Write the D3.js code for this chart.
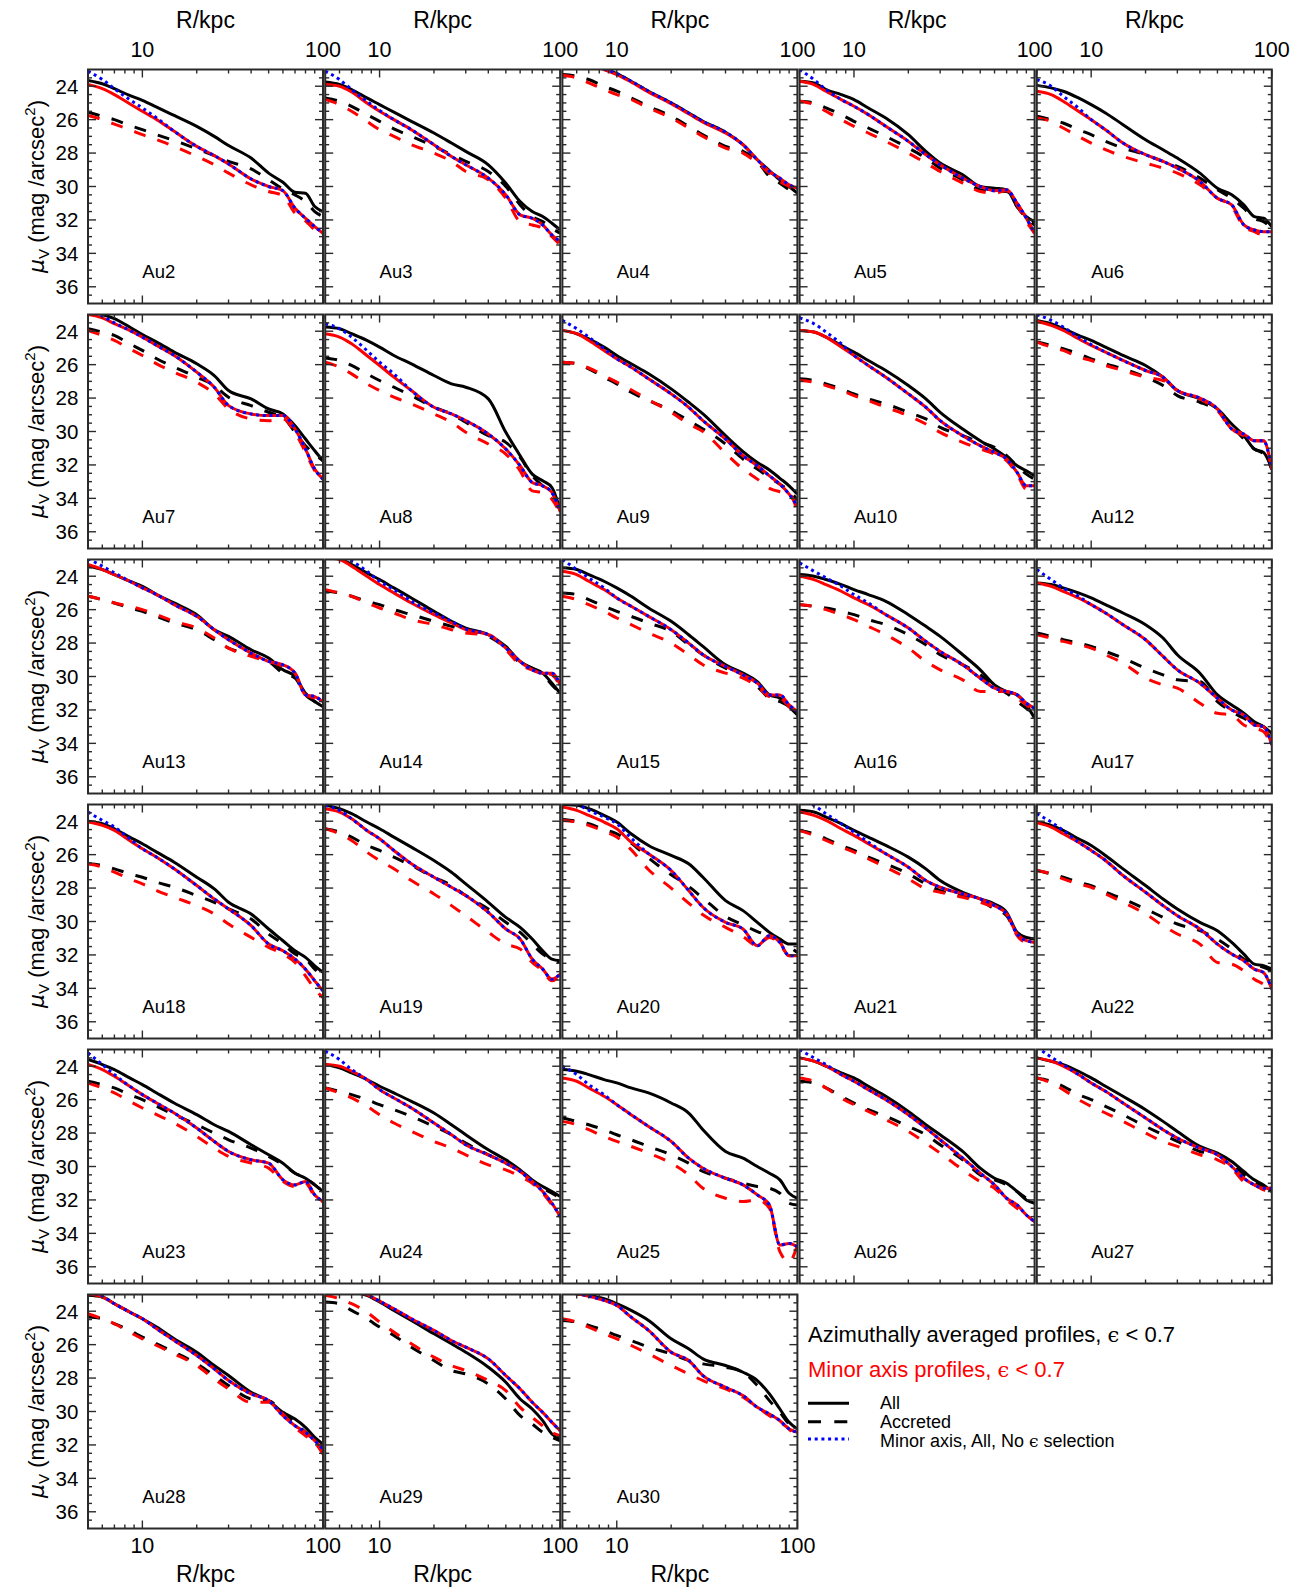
<!DOCTYPE html>
<html><head><meta charset="utf-8">
<script src="https://cdn.jsdelivr.net/npm/d3@7"></script>
<style>body{margin:0;background:#fff}svg{display:block}text{font-family:"Liberation Sans",Arial,sans-serif}</style>
</head><body>
<svg id="c" width="1303" height="1593"></svg>
<script>
// ---------------- DATA ----------------
const radii = [5,6,7,8.5,10,12,15,20,25,30,40,50,60,70,80,90,100]; // R / kpc
const gridLayout = [
  ["Au2","Au3","Au4","Au5","Au6"],
  ["Au7","Au8","Au9","Au10","Au12"],
  ["Au13","Au14","Au15","Au16","Au17"],
  ["Au18","Au19","Au20","Au21","Au22"],
  ["Au23","Au24","Au25","Au26","Au27"],
  ["Au28","Au29","Au30"]
];
const xMajorTicks = [10,100];
const xMinorTicks = [5,6,7,8,9,20,30,40,50,60,70,80,90];
const yMajorTicks = [24,26,28,30,32,34,36];
const yMinorTicks = d3.range(23.5,37,0.5).filter(v=>v%2!==0);

// Azimuthally averaged, All (black solid)
const allAzim = {
Au2:[23.65,23.85,24.15,24.55,24.85,25.25,25.75,26.4,27.0,27.55,28.3,29.2,29.75,30.35,30.4,31.2,31.5],
Au3:[23.75,23.9,24.2,24.7,25.1,25.55,26.1,26.8,27.4,27.9,28.7,29.8,30.9,31.5,31.8,32.2,32.6],
Au4:[21.7,22.2,22.6,22.95,23.25,23.7,24.3,25.0,25.6,26.1,26.75,27.5,28.4,29.05,29.6,30.0,30.4],
Au5:[23.7,23.8,24.2,24.5,24.8,25.3,25.9,26.9,27.9,28.6,29.3,30.0,30.1,30.2,31.2,31.8,32.1],
Au6:[23.95,24.1,24.3,24.7,25.1,25.6,26.3,27.2,27.8,28.3,29.2,30.1,30.5,31.1,31.8,31.9,32.4],
Au7:[22.8,23.0,23.25,23.75,24.2,24.65,25.25,25.95,26.65,27.55,28.05,28.65,28.95,29.65,30.45,31.15,31.75],
Au8:[23.75,23.85,24.15,24.55,24.95,25.45,25.95,26.65,27.15,27.35,28.05,30.05,31.45,32.55,32.95,33.35,34.7],
Au9:[23.95,24.15,24.45,24.95,25.45,25.95,26.55,27.45,28.25,28.95,30.25,31.2,31.85,32.3,32.8,33.25,33.75],
Au10:[23.95,24.05,24.35,24.85,25.25,25.75,26.35,27.25,28.05,28.85,29.85,30.55,31.05,31.55,32.05,32.35,32.65],
Au12:[23.35,23.55,23.85,24.25,24.55,24.95,25.45,26.05,26.75,27.55,28.05,28.65,29.55,30.25,31.05,31.25,32.25],
Au13:[23.4,23.6,23.9,24.3,24.6,25.1,25.6,26.3,27.2,27.6,28.4,28.9,29.6,30.0,31.0,31.5,31.8],
Au14:[22.8,22.95,23.3,23.8,24.2,24.7,25.3,26.1,26.7,27.1,27.5,28.2,29.1,29.5,29.8,30.4,31.0],
Au15:[23.5,23.6,23.9,24.3,24.7,25.2,25.9,26.7,27.5,28.2,29.3,29.8,30.3,31.1,31.3,31.8,32.3],
Au16:[23.9,24.0,24.2,24.5,24.8,25.1,25.5,26.3,27.0,27.6,28.7,29.6,30.5,30.9,31.1,31.7,32.5],
Au17:[24.4,24.5,24.7,25.0,25.3,25.7,26.2,26.9,27.7,28.7,29.8,31.1,31.7,32.2,32.7,33.0,33.4],
Au18:[24.0,24.15,24.45,24.95,25.35,25.85,26.45,27.35,28.05,28.85,29.55,30.45,31.15,31.75,32.15,32.65,33.05],
Au19:[23.05,23.25,23.55,24.05,24.45,24.95,25.55,26.35,27.05,27.75,28.85,29.75,30.35,31.05,31.75,32.25,32.35],
Au20:[23.0,23.05,23.25,23.65,24.05,24.75,25.45,26.05,26.55,27.35,28.75,29.35,30.05,30.65,31.05,31.35,31.35],
Au21:[23.35,23.45,23.75,24.15,24.55,24.95,25.45,26.15,26.85,27.55,28.25,28.65,28.95,29.45,30.65,30.95,31.05],
Au22:[24.05,24.25,24.55,25.05,25.45,26.05,26.85,27.85,28.65,29.25,30.05,30.55,31.25,31.95,32.55,32.65,32.85],
Au23:[23.6,23.9,24.2,24.7,25.1,25.6,26.2,26.9,27.5,27.9,28.7,29.3,29.8,30.4,30.7,31.1,31.5],
Au24:[23.9,24.1,24.4,24.8,25.2,25.6,26.1,26.8,27.5,28.1,29.0,29.6,30.2,30.8,31.2,31.5,31.8],
Au25:[24.2,24.3,24.5,24.8,25.0,25.3,25.6,26.2,26.8,27.8,29.1,29.5,30.0,30.4,30.8,31.6,31.9],
Au26:[23.5,23.7,24.0,24.4,24.7,25.2,25.8,26.7,27.5,28.1,29.1,30.1,30.7,31.0,31.5,32.0,32.2],
Au27:[23.5,23.7,23.9,24.3,24.7,25.2,25.8,26.6,27.3,27.9,28.8,29.2,29.7,30.3,30.8,31.1,31.5],
Au28:[23.05,23.15,23.55,24.05,24.45,24.95,25.65,26.45,27.25,27.85,28.85,29.35,30.05,30.45,30.95,31.55,31.95],
Au29:[22.5,22.7,22.85,23.05,23.45,23.95,24.55,25.35,25.95,26.45,27.35,28.25,29.25,29.85,30.55,31.35,31.65],
Au30:[22.85,22.95,23.05,23.25,23.55,23.95,24.55,25.65,26.25,26.85,27.25,27.65,28.15,28.95,29.85,30.65,31.05]
};
// Azimuthally averaged, Accreted (black dashed)
const accAzim = {
Au2:[25.55,25.8,26.0,26.35,26.6,26.9,27.25,27.75,28.15,28.5,28.95,29.6,30.15,30.5,30.9,31.5,31.8],
Au3:[24.7,24.9,25.2,25.7,26.1,26.55,27.0,27.6,28.1,28.5,29.1,30.0,31.1,31.8,32.1,32.5,32.8],
Au4:[23.3,23.4,23.6,24.0,24.3,24.7,25.2,25.8,26.4,26.9,27.6,27.9,28.5,29.4,29.8,30.2,30.6],
Au5:[24.9,25.0,25.3,25.7,26.1,26.5,27.0,27.7,28.3,28.9,29.6,30.2,30.3,30.3,31.2,31.9,32.3],
Au6:[25.8,26.0,26.2,26.6,26.9,27.3,27.7,28.1,28.5,28.8,29.5,30.2,30.7,31.3,31.9,32.1,32.5],
Au7:[23.85,24.05,24.25,24.75,25.15,25.65,26.15,26.75,27.25,27.95,28.45,28.85,29.15,30.05,30.85,31.35,31.75],
Au8:[25.6,25.75,26.05,26.55,26.95,27.35,27.85,28.55,28.95,29.45,30.25,30.65,31.55,32.65,33.25,33.65,34.8],
Au9:[25.85,25.95,26.25,26.75,27.15,27.65,28.15,28.75,29.35,29.85,30.75,31.65,32.25,32.75,33.15,33.55,34.1],
Au10:[26.85,26.95,27.15,27.45,27.75,28.05,28.35,28.85,29.25,29.75,30.25,30.65,30.95,31.45,32.05,32.55,32.85],
Au12:[24.65,24.85,25.05,25.35,25.65,25.95,26.25,26.75,27.25,27.85,28.25,28.75,29.65,30.45,31.05,31.35,32.25],
Au13:[25.2,25.4,25.6,25.9,26.1,26.4,26.8,27.2,27.8,28.3,28.7,29.1,29.8,30.1,31.1,31.5,31.8],
Au14:[24.9,25.0,25.2,25.5,25.7,26.0,26.3,26.7,27.0,27.2,27.6,28.3,29.2,29.5,29.9,30.5,31.0],
Au15:[25.0,25.1,25.4,25.8,26.1,26.4,26.8,27.3,28.1,28.7,29.5,29.9,30.6,31.3,31.5,31.8,32.4],
Au16:[25.7,25.8,25.9,26.1,26.3,26.6,26.9,27.5,28.1,28.7,29.3,29.9,30.6,31.0,31.5,31.9,32.3],
Au17:[27.4,27.6,27.8,28.0,28.2,28.5,28.9,29.5,29.9,30.2,30.3,31.5,32.1,32.5,32.8,33.0,33.5],
Au18:[26.55,26.65,26.85,27.15,27.35,27.65,27.95,28.45,28.85,29.25,29.85,30.75,31.35,31.95,32.25,32.85,33.35],
Au19:[24.45,24.65,24.95,25.45,25.75,26.15,26.65,27.35,27.85,28.45,29.25,30.05,30.65,31.35,31.95,32.25,32.45],
Au20:[23.9,24.0,24.15,24.5,24.75,25.3,26.2,27.2,27.9,28.6,29.7,30.2,30.6,30.85,31.1,31.5,31.85],
Au21:[24.55,24.75,25.05,25.45,25.75,26.15,26.55,27.15,27.75,28.15,28.45,28.75,29.25,29.65,30.75,31.05,31.15],
Au22:[26.95,27.15,27.35,27.65,27.85,28.25,28.65,29.25,29.75,30.15,30.55,31.05,31.65,32.25,32.55,32.75,32.95],
Au23:[24.9,25.1,25.3,25.7,26.0,26.4,26.9,27.5,28.0,28.4,28.9,29.4,29.9,30.4,30.7,31.1,31.5],
Au24:[25.3,25.5,25.7,26.0,26.3,26.6,27.0,27.6,28.1,28.6,29.3,29.8,30.3,30.9,31.3,31.6,31.9],
Au25:[27.1,27.3,27.5,27.8,28.1,28.4,28.8,29.3,29.8,30.3,30.7,31.0,31.2,31.3,31.6,32.2,32.3],
Au26:[24.9,25.0,25.3,25.8,26.2,26.6,27.0,27.6,28.1,28.7,29.6,30.5,30.8,31.1,31.5,31.9,32.2],
Au27:[24.7,24.9,25.2,25.7,26.0,26.4,26.9,27.6,28.1,28.5,29.1,29.3,29.8,30.5,30.9,31.2,31.4],
Au28:[24.35,24.45,24.75,25.15,25.55,25.95,26.45,27.15,27.85,28.45,29.25,29.35,30.05,30.65,31.25,31.75,32.15],
Au29:[23.45,23.55,23.95,24.45,24.95,25.45,26.15,26.95,27.55,27.75,28.35,29.25,30.25,30.75,31.25,31.55,31.75],
Au30:[24.55,24.65,24.85,25.15,25.45,25.75,26.15,26.55,26.95,27.15,27.35,27.65,28.45,29.35,30.05,30.75,31.15]
};
// Minor axis, All, eps<0.7 (red solid)
const allMinor = {
Au2:[23.9,24.15,24.5,25.05,25.5,26.0,26.7,27.6,28.15,28.65,29.55,30.0,30.25,31.3,31.9,32.4,32.8],
Au3:[23.9,24.0,24.35,25.0,25.5,26.0,26.6,27.5,28.2,28.7,29.5,30.5,31.7,31.9,32.3,32.9,33.3],
Au4:[21.8,22.3,22.65,23.0,23.3,23.75,24.35,25.05,25.65,26.15,26.8,27.5,28.4,29.1,29.5,29.9,30.1],
Au5:[23.7,23.9,24.3,24.8,25.2,25.7,26.4,27.3,28.1,28.7,29.5,30.0,30.25,30.2,31.0,31.9,32.8],
Au6:[24.3,24.5,24.9,25.5,26.0,26.6,27.4,28.1,28.5,28.9,29.7,30.7,31.1,32.3,32.6,32.7,32.7],
Au7:[23.0,23.2,23.55,23.95,24.35,24.85,25.45,26.45,27.35,28.45,28.95,29.05,29.05,29.85,31.05,32.25,32.85],
Au8:[24.15,24.35,24.75,25.45,26.05,26.75,27.55,28.55,28.95,29.35,30.15,31.05,32.05,33.05,33.25,33.65,34.8],
Au9:[23.95,24.15,24.55,25.15,25.65,26.15,26.85,27.75,28.55,29.35,30.45,31.45,32.05,32.65,33.15,33.75,34.45],
Au10:[23.95,24.05,24.35,24.95,25.45,26.05,26.75,27.75,28.55,29.35,30.25,30.85,31.25,31.65,32.45,33.25,33.25],
Au12:[23.4,23.65,23.95,24.45,24.85,25.25,25.75,26.35,26.75,27.55,28.0,28.65,29.85,30.15,30.55,30.55,32.25],
Au13:[23.3,23.6,23.9,24.3,24.7,25.1,25.7,26.4,27.2,27.8,28.6,29.1,29.3,29.8,31.1,31.2,31.5],
Au14:[22.9,23.0,23.4,24.0,24.5,25.0,25.6,26.3,26.8,27.2,27.5,28.3,29.1,29.6,29.8,29.8,30.5],
Au15:[23.7,23.9,24.3,24.8,25.3,25.8,26.4,27.2,28.0,28.7,29.4,29.9,30.4,31.1,31.1,31.7,32.1],
Au16:[24.0,24.2,24.5,24.9,25.3,25.7,26.3,27.1,27.9,28.5,29.3,30.1,30.7,30.9,31.1,31.6,31.9],
Au17:[24.4,24.6,24.9,25.3,25.7,26.2,26.9,27.8,28.8,29.6,30.4,31.3,32.0,32.3,32.9,33.0,34.1],
Au18:[24.05,24.25,24.55,25.15,25.65,26.15,26.85,27.85,28.65,29.25,30.25,31.35,31.75,32.25,32.85,33.55,34.15],
Au19:[23.25,23.45,23.85,24.55,25.05,25.75,26.55,27.35,27.95,28.45,29.45,30.45,31.05,32.25,32.85,33.45,33.15],
Au20:[23.15,23.35,23.65,24.05,24.45,25.25,25.95,26.95,28.15,29.15,30.05,30.45,31.45,30.85,31.25,32.05,32.05],
Au21:[23.45,23.65,23.95,24.45,24.85,25.35,25.95,26.75,27.55,27.95,28.35,28.65,29.05,29.55,30.75,31.15,31.25],
Au22:[24.1,24.35,24.75,25.25,25.75,26.35,27.25,28.25,29.05,29.65,30.45,31.35,31.95,32.35,32.85,33.05,34.05],
Au23:[23.9,24.2,24.6,25.2,25.7,26.2,26.8,27.7,28.5,29.1,29.6,29.8,30.8,31.1,30.9,31.7,32.1],
Au24:[23.9,24.0,24.3,24.8,25.4,25.9,26.5,27.4,28.1,28.7,29.3,29.8,30.3,30.9,31.5,32.2,33.0],
Au25:[24.7,24.9,25.3,25.8,26.3,26.9,27.6,28.5,29.5,30.1,30.7,31.1,31.7,32.3,34.7,34.6,34.8],
Au26:[23.5,23.7,24.0,24.5,24.9,25.4,26.0,26.9,27.7,28.4,29.5,30.4,31.1,31.9,32.3,32.9,33.3],
Au27:[23.5,23.7,24.0,24.5,25.0,25.5,26.2,27.1,27.8,28.3,28.9,29.3,30.0,30.7,31.1,31.3,31.3],
Au28:[22.95,23.15,23.55,24.05,24.45,25.05,25.75,26.65,27.45,28.15,28.95,29.35,30.25,30.85,31.25,31.75,32.25],
Au29:[22.3,22.55,22.75,23.0,23.4,23.85,24.45,25.15,25.75,26.15,26.85,27.85,28.65,29.45,30.05,30.65,31.15],
Au30:[22.85,22.95,23.1,23.35,23.65,24.35,25.15,26.45,26.95,27.85,28.55,29.05,29.75,30.15,30.55,31.05,31.25]
};
// Minor axis, Accreted, eps<0.7 (red dashed)
const accMinor = {
Au2:[25.75,26.0,26.27,26.6,26.9,27.2,27.6,28.2,28.7,29.2,29.9,30.3,30.55,31.6,32.05,32.6,32.9],
Au3:[24.8,25.1,25.5,26.1,26.6,27.0,27.5,28.0,28.5,29.1,29.6,30.7,32.1,32.3,32.5,33.0,33.5],
Au4:[23.35,23.5,23.8,24.2,24.5,24.8,25.3,25.9,26.5,27.0,27.7,28.0,28.6,29.2,29.7,30.0,30.3],
Au5:[24.9,25.1,25.5,26.0,26.4,26.8,27.3,28.0,28.6,29.1,29.8,30.3,30.4,30.25,31.1,32.1,32.8],
Au6:[25.9,26.1,26.5,27.0,27.4,27.8,28.2,28.6,28.9,29.2,29.9,30.7,31.2,32.4,32.7,32.9,32.8],
Au7:[23.95,24.25,24.55,25.05,25.45,25.95,26.45,27.05,27.75,28.65,29.25,29.35,29.25,30.05,31.25,32.35,32.95],
Au8:[25.85,26.15,26.55,27.15,27.55,27.95,28.35,28.95,29.45,30.05,30.75,31.35,32.35,33.55,33.65,34.05,34.9],
Au9:[25.85,25.95,26.2,26.65,27.05,27.5,28.1,28.85,29.55,30.0,31.3,32.25,32.85,33.4,33.6,33.7,34.8],
Au10:[26.95,27.05,27.25,27.55,27.85,28.15,28.55,29.05,29.55,30.05,30.65,31.05,31.35,31.75,32.55,33.45,33.35],
Au12:[24.65,24.95,25.15,25.55,25.75,26.05,26.35,26.75,26.95,27.55,28.05,28.75,29.85,30.25,30.55,30.55,32.25],
Au13:[25.2,25.4,25.6,25.8,26.0,26.3,26.7,27.1,27.7,28.3,28.8,29.1,29.4,29.8,31.1,31.3,31.6],
Au14:[24.8,25.0,25.2,25.6,25.9,26.2,26.6,26.9,27.2,27.4,27.5,28.4,29.3,29.6,29.8,29.9,30.6],
Au15:[25.2,25.4,25.7,26.1,26.5,26.9,27.4,28.0,28.7,29.3,29.8,30.1,30.6,31.2,31.3,31.8,32.3],
Au16:[25.7,25.8,26.0,26.3,26.6,27.0,27.5,28.3,29.1,29.6,30.2,30.9,30.9,30.9,31.3,31.7,32.1],
Au17:[27.5,27.7,27.9,28.1,28.3,28.7,29.2,30.1,30.5,30.7,31.6,32.2,32.3,32.9,33.1,33.3,34.2],
Au18:[26.55,26.75,27.05,27.45,27.75,28.15,28.55,29.05,29.55,30.15,30.95,31.55,31.95,32.45,33.25,34.05,34.55],
Au19:[24.45,24.75,25.15,25.85,26.35,26.85,27.55,28.35,29.05,29.65,30.65,31.35,31.65,32.45,32.95,33.55,33.25],
Au20:[23.95,24.05,24.25,24.6,24.95,25.7,26.9,28.0,28.9,29.6,30.35,30.9,31.45,30.95,31.35,32.05,32.05],
Au21:[24.55,24.85,25.15,25.55,25.85,26.25,26.75,27.45,28.05,28.25,28.55,28.85,29.15,29.55,30.85,31.25,31.25],
Au22:[26.95,27.15,27.45,27.75,27.95,28.35,28.85,29.55,30.25,30.75,31.35,32.45,32.55,32.95,33.45,33.75,34.05],
Au23:[25.0,25.3,25.6,26.1,26.5,26.9,27.4,28.2,28.9,29.4,29.8,30.1,30.9,31.2,31.0,31.8,32.1],
Au24:[25.3,25.6,25.9,26.4,26.9,27.4,27.9,28.5,28.9,29.3,29.9,30.2,30.6,31.0,31.6,32.3,33.0],
Au25:[27.3,27.5,27.8,28.2,28.5,28.8,29.2,29.8,30.5,31.3,31.9,32.1,32.0,32.5,35.1,35.7,34.7],
Au26:[24.7,24.9,25.3,25.9,26.3,26.7,27.2,27.9,28.6,29.2,30.2,30.9,31.3,32.0,32.5,32.9,33.3],
Au27:[24.7,25.0,25.4,26.0,26.4,26.8,27.3,28.0,28.5,28.8,29.3,29.6,30.1,30.9,31.1,31.4,31.5],
Au28:[24.15,24.45,24.75,25.25,25.65,26.05,26.55,27.25,28.05,28.65,29.45,29.45,30.15,30.95,31.45,31.85,32.55],
Au29:[23.05,23.25,23.55,24.05,24.65,25.25,25.95,26.75,27.25,27.55,28.15,28.75,29.75,30.35,30.85,31.25,31.45],
Au30:[24.45,24.65,24.95,25.35,25.65,26.05,26.55,27.25,27.75,28.15,28.65,29.15,29.75,30.25,30.65,31.05,31.75]
};
// Minor axis, All, no eps selection (blue dotted)
const noCutMinor = {
Au2:[23.1,23.6,24.15,24.8,25.3,25.9,26.7,27.6,28.15,28.65,29.55,30.0,30.25,31.3,31.9,32.4,32.8],
Au3:[23.1,23.6,24.2,24.9,25.45,26.0,26.6,27.5,28.2,28.7,29.5,30.5,31.7,31.9,32.3,32.9,33.3],
Au4:[21.7,22.2,22.6,22.95,23.25,23.7,24.3,25.0,25.6,26.1,26.75,27.5,28.4,29.1,29.5,29.9,30.1],
Au5:[23.0,23.6,24.2,24.8,25.2,25.7,26.4,27.3,28.1,28.7,29.5,30.0,30.25,30.2,31.0,31.9,32.8],
Au6:[23.6,24.0,24.6,25.3,26.0,26.6,27.4,28.1,28.5,28.9,29.7,30.7,31.1,32.3,32.6,32.7,32.7],
Au7:[22.8,23.1,23.5,23.95,24.35,24.85,25.45,26.45,27.35,28.45,28.95,29.05,29.05,29.85,31.05,32.25,32.85],
Au8:[23.55,23.85,24.35,25.15,25.85,26.55,27.55,28.55,28.95,29.35,30.15,31.05,32.05,33.05,33.25,33.65,34.8],
Au9:[23.35,23.85,24.35,25.05,25.65,26.15,26.85,27.75,28.55,29.35,30.45,31.45,32.05,32.65,33.15,33.75,34.45],
Au10:[23.2,23.55,24.05,24.75,25.45,26.05,26.75,27.75,28.55,29.35,30.25,30.85,31.25,31.65,32.45,33.25,33.25],
Au12:[23.0,23.35,23.75,24.35,24.8,25.25,25.75,26.35,26.75,27.55,28.0,28.65,29.85,30.15,30.55,30.55,32.25],
Au13:[22.95,23.4,23.8,24.3,24.7,25.1,25.7,26.4,27.2,27.8,28.6,29.1,29.3,29.8,31.1,31.2,31.5],
Au14:[22.5,22.8,23.1,23.7,24.3,24.8,25.5,26.2,26.7,27.15,27.5,28.3,29.1,29.6,29.8,29.8,30.5],
Au15:[23.0,23.6,24.1,24.7,25.3,25.8,26.4,27.2,28.0,28.7,29.4,29.9,30.4,31.1,31.1,31.7,32.1],
Au16:[23.2,23.7,24.1,24.6,25.1,25.6,26.3,27.1,27.9,28.5,29.3,30.1,30.7,30.9,31.1,31.6,31.9],
Au17:[23.6,24.2,24.7,25.2,25.7,26.2,26.9,27.8,28.8,29.6,30.4,31.3,32.0,32.3,32.9,33.0,34.1],
Au18:[23.45,23.95,24.35,25.05,25.65,26.15,26.85,27.85,28.65,29.25,30.25,31.35,31.75,32.25,32.85,33.55,34.15],
Au19:[23.05,23.35,23.85,24.55,25.05,25.75,26.55,27.35,27.95,28.45,29.45,30.45,31.05,32.25,32.85,33.45,33.15],
Au20:[22.9,23.0,23.35,23.75,24.15,25.0,25.95,26.95,28.15,29.15,30.05,30.45,31.45,30.85,31.25,32.05,32.05],
Au21:[22.75,23.05,23.55,24.15,24.65,25.25,25.95,26.75,27.55,27.95,28.35,28.65,29.05,29.55,30.75,31.15,31.25],
Au22:[23.55,24.05,24.55,25.25,25.75,26.35,27.25,28.25,29.05,29.65,30.45,31.35,31.95,32.35,32.85,33.05,34.05],
Au23:[23.2,23.9,24.5,25.2,25.7,26.2,26.8,27.7,28.5,29.1,29.6,29.8,30.8,31.1,30.9,31.7,32.1],
Au24:[23.1,23.6,24.2,24.8,25.4,25.9,26.5,27.4,28.1,28.7,29.3,29.8,30.3,30.9,31.5,32.2,33.0],
Au25:[24.0,24.5,25.1,25.7,26.3,26.9,27.6,28.5,29.5,30.1,30.7,31.1,31.7,32.3,34.7,34.6,34.8],
Au26:[23.0,23.5,23.9,24.5,24.9,25.4,26.0,26.9,27.7,28.4,29.5,30.4,31.1,31.9,32.3,32.9,33.3],
Au27:[22.85,23.45,23.9,24.5,25.0,25.5,26.2,27.1,27.8,28.3,28.9,29.3,30.0,30.7,31.1,31.3,31.3],
Au28:[22.85,23.1,23.55,24.05,24.45,25.05,25.75,26.65,27.45,28.15,28.95,29.35,30.25,30.85,31.25,31.75,32.25],
Au29:[22.3,22.55,22.75,23.0,23.4,23.85,24.45,25.15,25.75,26.15,26.85,27.85,28.65,29.45,30.05,30.65,31.15],
Au30:[22.85,22.95,23.1,23.35,23.65,24.35,25.15,26.45,26.95,27.85,28.55,29.05,29.75,30.15,30.55,31.05,31.25]
};

// ---------------- DRAWING ----------------
const svg = d3.select("#c");
const W = 235, H = 234, X0 = 88, Y0 = 69.5, DX = 237.2, DY = 245;
const FRAME = "#2a2a2a";
const x = d3.scaleLog().domain([5,100]).range([0,W]);
const y = d3.scaleLinear().domain([23,37]).range([0,H]);
const lineGen = d3.line().x((d,i)=>x(radii[i])).y(d=>y(d)).curve(d3.curveMonotoneX);

const seriesDefs = [
  {data: allAzim,    color:"#000",    dash:null},
  {data: accAzim,    color:"#000",    dash:"12,12.5"},
  {data: allMinor,   color:"#ff0000", dash:null},
  {data: accMinor,   color:"#ff0000", dash:"12,12.5"},
  {data: noCutMinor, color:"#0000ff", dash:"3,3.7"}
];

const defs = svg.append("defs");
defs.append("clipPath").attr("id","pclip").append("rect")
  .attr("x",0).attr("y",0).attr("width",W).attr("height",H);

gridLayout.forEach((row, r) => {
  row.forEach((name, c) => {
    const g = svg.append("g").attr("transform",`translate(${X0 + c*DX},${Y0 + r*DY})`);
    const plot = g.append("g").attr("clip-path","url(#pclip)");
    seriesDefs.forEach(s => {
      plot.append("path")
        .attr("d", lineGen(s.data[name]))
        .attr("fill","none")
        .attr("stroke", s.color)
        .attr("stroke-width", 3)
        .attr("stroke-linejoin","round")
        .attr("stroke-dasharray", s.dash);
    });
    // ticks (inward, all four sides)
    const tk = g.append("g").attr("stroke",FRAME).attr("stroke-width",1.4);
    const xt = [...xMajorTicks.map(v=>[v,8]), ...xMinorTicks.map(v=>[v,4])];
    xt.forEach(([v,len]) => {
      const px = x(v);
      tk.append("line").attr("x1",px).attr("x2",px).attr("y1",H).attr("y2",H-len);
      tk.append("line").attr("x1",px).attr("x2",px).attr("y1",0).attr("y2",len);
    });
    const yt = [...yMajorTicks.map(v=>[v,8]), ...yMinorTicks.map(v=>[v,4])];
    yt.forEach(([v,len]) => {
      const py = y(v);
      tk.append("line").attr("x1",0).attr("x2",len).attr("y1",py).attr("y2",py);
      tk.append("line").attr("x1",W).attr("x2",W-len).attr("y1",py).attr("y2",py);
    });
    g.append("rect").attr("width",W).attr("height",H)
      .attr("fill","none").attr("stroke",FRAME).attr("stroke-width",2);
    // halo label
    g.append("text").attr("x", x(10)).attr("y", 208)
      .attr("font-size",18.5).attr("fill","#000").text(name);

    // y axis labels on first column
    if (c === 0) {
      yMajorTicks.forEach(v => {
        g.append("text").attr("x",-9.7).attr("y",y(v)).attr("dy","0.36em")
          .attr("text-anchor","end").attr("font-size",20.5).text(v);
      });
      const t = svg.append("text")
        .attr("transform",`translate(44,${Y0 + r*DY + H/2}) rotate(-90)`)
        .attr("text-anchor","middle").attr("font-size",22);
      t.append("tspan").attr("font-family","DejaVu Sans").attr("font-style","italic").text("μ");
      t.append("tspan").attr("font-size",15).attr("dy",5).text("V");
      t.append("tspan").attr("dy",-5).text(" (mag /arcsec");
      t.append("tspan").attr("font-size",15).attr("dy",-9).text("2");
      t.append("tspan").attr("dy",9).text(")");
    }
    // top axis labels on first row
    if (r === 0) {
      xMajorTicks.forEach(v => {
        g.append("text").attr("x",x(v)).attr("y",-12.2).attr("text-anchor","middle")
          .attr("font-size",21.5).text(v);
      });
      g.append("text").attr("x",W/2).attr("y",-41.2).attr("text-anchor","middle")
        .attr("font-size",23).text("R/kpc");
    }
    // bottom axis labels on last row
    if (r === gridLayout.length - 1) {
      xMajorTicks.forEach(v => {
        g.append("text").attr("x",x(v)).attr("y",H+24.5).attr("text-anchor","middle")
          .attr("font-size",21.5).text(v);
      });
      g.append("text").attr("x",W/2).attr("y",H+53).attr("text-anchor","middle")
        .attr("font-size",23).text("R/kpc");
    }
  });
});

// ---------------- LEGEND ----------------
const lg = svg.append("g");
function epsTitle(yb, color, label) {
  const t = lg.append("text").attr("x",808).attr("y",yb).attr("font-size",22).attr("fill",color);
  t.append("tspan").text(label + ", ");
  t.append("tspan").attr("font-family","DejaVu Serif").attr("font-size",21).text("ϵ");
  t.append("tspan").text(" < 0.7");
}
epsTitle(1341.7, "#000", "Azimuthally averaged profiles");
epsTitle(1376.7, "#ff0000", "Minor axis profiles");
const legendRows = [
  {label:"All", color:"#000", dash:null, ly:1403.3, ty:1409},
  {label:"Accreted", color:"#000", dash:"13,13.3", ly:1421.7, ty:1427.7},
  {label:null, color:"#0000ff", dash:"3,3.7", ly:1439, ty:1446.7}
];
legendRows.forEach(d => {
  lg.append("line").attr("x1",808).attr("x2",849).attr("y1",d.ly).attr("y2",d.ly)
    .attr("stroke",d.color).attr("stroke-width",3).attr("stroke-dasharray",d.dash);
  const t = lg.append("text").attr("x",880).attr("y",d.ty).attr("font-size",18);
  if (d.label) t.text(d.label);
  else {
    t.append("tspan").text("Minor axis, All, No ");
    t.append("tspan").attr("font-family","DejaVu Serif").attr("font-size",17).text("ϵ");
    t.append("tspan").text(" selection");
  }
});
</script>
</body></html>
